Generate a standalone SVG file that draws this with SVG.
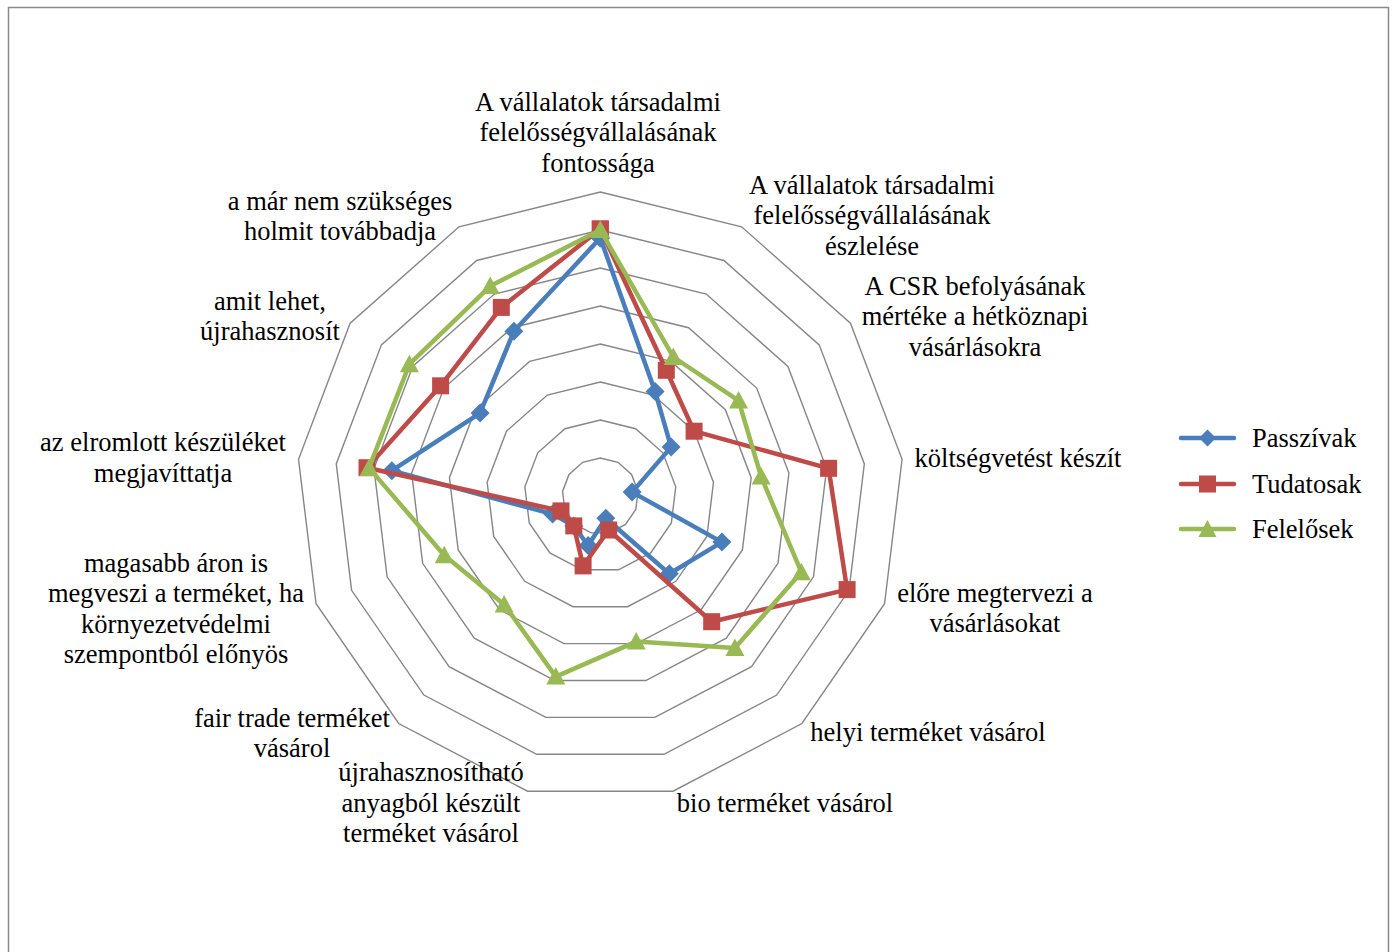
<svg xmlns="http://www.w3.org/2000/svg" xmlns:xlink="http://www.w3.org/1999/xlink" width="1397" height="952" viewBox="0 0 1397 952">
<style>
.frame{fill:#fff;stroke:#898989;stroke-width:1.5}
.ring{fill:none;stroke:#868686;stroke-width:1.4}
.lbl{font-family:"Liberation Serif","Times New Roman",serif;font-size:26.5px;fill:#000;text-anchor:middle}
.leg{font-family:"Liberation Serif","Times New Roman",serif;font-size:26.5px;fill:#000}
.s1{fill:none;stroke:#4A7EBB;stroke-width:4.5;stroke-linejoin:round}
.s2{fill:none;stroke:#BE4B48;stroke-width:4.5;stroke-linejoin:round}
.s3{fill:none;stroke:#98B954;stroke-width:4.5;stroke-linejoin:round}
</style>
<defs>
<polygon id="ring" class="ring" vector-effect="non-scaling-stroke" points="0,-38 17.66,-33.65 31.27,-21.59 37.72,-4.58 35.53,13.47 25.20,28.44 9.09,36.90 -9.09,36.90 -25.20,28.44 -35.53,13.47 -37.72,-4.58 -31.27,-21.59 -17.66,-33.65"/>
<marker id="mDia" markerUnits="userSpaceOnUse" markerWidth="20" markerHeight="20" refX="10" refY="10" viewBox="0 0 20 20" overflow="visible"><path d="M10,0.5 L19.5,10 L10,19.5 L0.5,10Z" fill="#4A7EBB"/></marker>
<marker id="mSq" markerUnits="userSpaceOnUse" markerWidth="20" markerHeight="20" refX="10" refY="10" viewBox="0 0 20 20" overflow="visible"><rect x="1.5" y="1.5" width="17" height="17" fill="#BE4B48"/></marker>
<marker id="mTri" markerUnits="userSpaceOnUse" markerWidth="20" markerHeight="20" refX="10" refY="10" viewBox="0 0 20 20" overflow="visible"><path d="M10,0.5 L19.5,18 L0.5,18Z" fill="#98B954"/></marker>
</defs>
<rect class="frame" x="8.5" y="7.5" width="1380" height="960"/>
<g id="grid">
<use xlink:href="#ring" transform="translate(600.3 496) scale(1)"/>
<use xlink:href="#ring" transform="translate(600.3 496) scale(2)"/>
<use xlink:href="#ring" transform="translate(600.3 496) scale(3)"/>
<use xlink:href="#ring" transform="translate(600.3 496) scale(4)"/>
<use xlink:href="#ring" transform="translate(600.3 496) scale(5)"/>
<use xlink:href="#ring" transform="translate(600.3 496) scale(6)"/>
<use xlink:href="#ring" transform="translate(600.3 496) scale(7)"/>
<use xlink:href="#ring" transform="translate(600.3 496) scale(8)"/>
</g>
<g id="axis-labels">
<text class="lbl" x="598" y="111">A vállalatok társadalmi</text>
<text class="lbl" x="598" y="141">felelősségvállalásának</text>
<text class="lbl" x="598" y="172">fontossága</text>
<text class="lbl" x="872" y="194">A vállalatok társadalmi</text>
<text class="lbl" x="872" y="224">felelősségvállalásának</text>
<text class="lbl" x="872" y="255">észlelése</text>
<text class="lbl" x="975" y="295">A CSR befolyásának</text>
<text class="lbl" x="975" y="325">mértéke a hétköznapi</text>
<text class="lbl" x="975" y="356">vásárlásokra</text>
<text class="lbl" x="1018" y="467">költségvetést készít</text>
<text class="lbl" x="995" y="602">előre megtervezi a</text>
<text class="lbl" x="995" y="632">vásárlásokat</text>
<text class="lbl" x="928" y="741">helyi terméket vásárol</text>
<text class="lbl" x="785" y="812">bio terméket vásárol</text>
<text class="lbl" x="431" y="781">újrahasznosítható</text>
<text class="lbl" x="431" y="812">anyagból készült</text>
<text class="lbl" x="431" y="842">terméket vásárol</text>
<text class="lbl" x="292" y="727">fair trade terméket</text>
<text class="lbl" x="292" y="757">vásárol</text>
<text class="lbl" x="176" y="572">magasabb áron is</text>
<text class="lbl" x="176" y="602">megveszi a terméket, ha</text>
<text class="lbl" x="176" y="633">környezetvédelmi</text>
<text class="lbl" x="176" y="663">szempontból előnyös</text>
<text class="lbl" x="163" y="451">az elromlott készüléket</text>
<text class="lbl" x="163" y="482">megjavíttatja</text>
<text class="lbl" x="270" y="310">amit lehet,</text>
<text class="lbl" x="270" y="340">újrahasznosít</text>
<text class="lbl" x="340" y="210">a már nem szükséges</text>
<text class="lbl" x="340" y="240">holmit továbbadja</text>
</g>
<g id="connectors">
<polygon id="series-passzivak" class="s1" marker-start="url(#mDia)" marker-mid="url(#mDia)" marker-end="url(#mDia)" points="600.3,238 655.1,391.5 671.1,447.1 632.1,492.1 721.9,542.1 669.3,573.8 605.8,518.3 588.1,545.5 573.8,525.9 552.6,514.1 391.8,470.7 480.1,413.1 513.9,331.3"/>
<polygon id="series-tudatosak" class="s2" marker-start="url(#mSq)" marker-mid="url(#mSq)" marker-end="url(#mSq)" points="600.3,229 666.3,370.3 694.1,431.2 828.6,468.3 847.1,589.6 711.7,621.7 608.7,530 583.1,565.9 573.8,525.9 561,510.9 367,467.7 440.6,385.8 501.3,307.4"/>
<polygon id="series-felelosek" class="s3" marker-start="url(#mTri)" marker-mid="url(#mTri)" marker-end="url(#mTri)" points="600.3,230 673.3,357 738.6,400.6 761.1,476.5 801.3,572.2 734.9,647.9 636.2,641.6 555.8,676.6 504.1,604.5 444.2,555.2 369,467.9 409.4,364.2 490.2,286.1"/>
</g>
<g id="legend">
<g id="legend-passzivak">
<line class="s1" x1="1181" y1="438" x2="1234" y2="438" stroke-linecap="round"/>
<path d="M1207.5,429.5 L1216,438 L1207.5,446.5 L1199,438Z" fill="#4A7EBB"/>
<text class="leg" x="1252" y="447">Passzívak</text>
</g>
<g id="legend-tudatosak">
<line class="s2" x1="1181" y1="484" x2="1234" y2="484" stroke-linecap="round"/>
<rect x="1199" y="475.5" width="17" height="17" fill="#BE4B48"/>
<text class="leg" x="1252" y="493">Tudatosak</text>
</g>
<g id="legend-felelosek">
<line class="s3" x1="1181" y1="529" x2="1234" y2="529" stroke-linecap="round"/>
<path d="M1207.5,520 L1216.5,537 L1198.5,537Z" fill="#98B954"/>
<text class="leg" x="1252" y="538">Felelősek</text>
</g>
</g>
</svg>
